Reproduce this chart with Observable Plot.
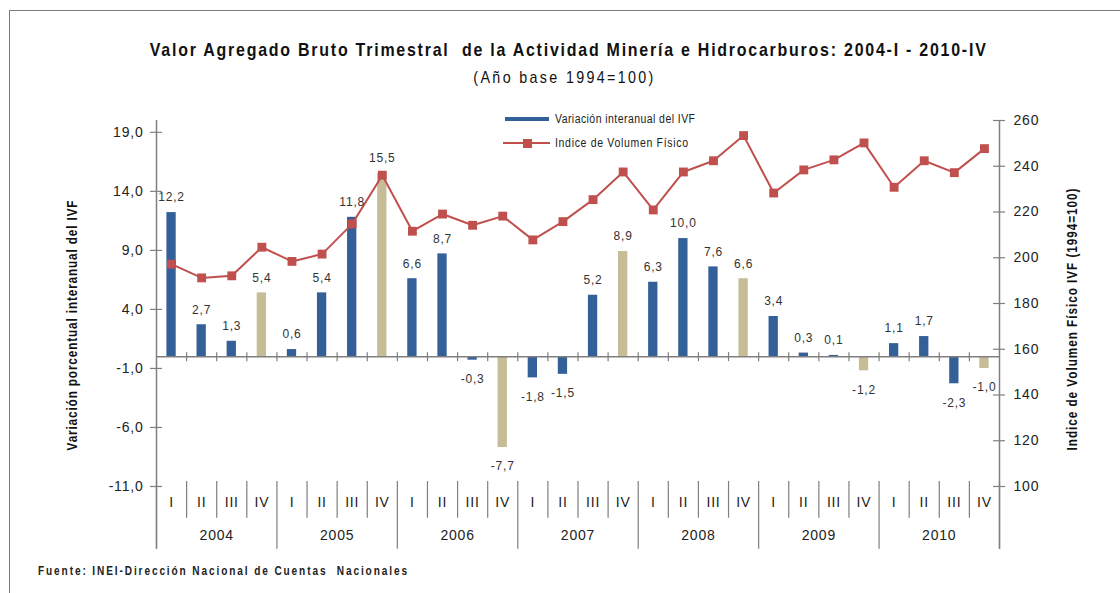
<!DOCTYPE html>
<html><head><meta charset="utf-8">
<script src="https://cdn.jsdelivr.net/npm/d3@7"></script>
<script src="https://cdn.jsdelivr.net/npm/@observablehq/plot@0.6"></script>
<style>
html,body{margin:0;padding:0;background:#fff;}
#wrap{position:relative;width:1120px;height:593px;overflow:hidden;font-family:"Liberation Sans Narrow","Arial Narrow","Liberation Sans",Arial,sans-serif;color:#111;}
#frame{position:absolute;left:9px;top:10px;width:1300px;height:800px;border-left:1.5px solid #7a7a7a;border-top:1.5px solid #7a7a7a;}
#chart{position:absolute;left:0;top:0;}
#chart svg text{letter-spacing:0.8px;}
.t{position:absolute;left:0;top:0;white-space:pre;line-height:1;transform-origin:50% 50%;}
.leg{position:absolute;}
</style></head><body>
<div id="wrap">
  <div id="frame"></div>
  <div id="chart"></div>
  <div class="t" id="title" style="font-weight:bold;font-size:19px;">Valor Agregado Bruto Trimestral  de la Actividad Minería e Hidrocarburos: 2004-I - 2010-IV</div>
  <div class="t" id="subtitle" style="font-size:17px;">(Año base 1994=100)</div>
  <div class="t" id="ylab" style="font-weight:bold;font-size:14px;">Variación porcentual interanual del IVF</div>
  <div class="t" id="ylab2" style="font-weight:bold;font-size:14px;">Indice de Volumen Físico IVF (1994=100)</div>
  <div class="t" id="foot" style="font-weight:bold;font-size:12px;color:#222;">Fuente: INEI-Dirección Nacional de Cuentas  Nacionales</div>
  <div class="leg" style="left:505px;top:117px;width:44px;height:4px;background:#34609a;"></div>
  <div class="leg" style="left:503px;top:142px;width:47px;height:2px;background:#c0504d;"></div>
  <div class="leg" style="left:523px;top:139px;width:9px;height:9px;background:#c0504d;"></div>
  <div class="t" id="leg1" style="font-size:12.5px;color:#222;">Variación interanual del IVF</div>
  <div class="t" id="leg2" style="font-size:12.5px;color:#222;">Indice de Volumen Físico</div>
</div>
<script>
// ---- data ----
const years = ["2004","2005","2006","2007","2008","2009","2010"];
const quarterLabels = ["I","II","III","IV"];
const variacion = [12.2,2.7,1.3,5.4, 0.6,5.4,11.8,15.5, 6.6,8.7,-0.3,-7.7, -1.8,-1.5,5.2,8.9, 6.3,10.0,7.6,6.6, 3.4,0.3,0.1,-1.2, 1.1,1.7,-2.3,-1.0];
const ivf = [197.2,191.2,192.1,204.6, 198.4,201.6,214.8,236.1, 211.6,219.1,214.2,218.2, 207.8,215.8,225.4,237.5, 220.9,237.5,242.4,253.4, 228.3,238.4,242.8,250.2, 230.8,242.4,237.2,247.7];
const leftTicks = [19,14,9,4,-1,-6,-11];
const rightTicks = [100,120,140,160,180,200,220,240,260];

const BLUE = "#34609a", TAN = "#c6bd97", RED = "#c0504d", AXIS = "#7f7f7f";
const FONT = '"Liberation Sans Narrow","Arial Narrow","Liberation Sans",Arial,sans-serif';

const rows = variacion.map((v, i) => ({i, v, q: i % 4, year: years[Math.floor(i / 4)], idx: ivf[i]}));
const nQ = rows.length;
// right axis (100..260) mapped onto left axis (-11..20)
const toL = v => -11 + (v - 100) * 31 / 160;
const fmt = d => d.toFixed(1).replace(".", ",");

const bounds = d3.range(0, nQ + 1);
const qSep = bounds.filter(k => k > 0 && k < nQ && k % 4 !== 0);
const ySep = bounds.filter(k => k % 4 === 0);
const yearRows = years.map((y, k) => ({y, k}));

const chart = Plot.plot({
  width: 1120, height: 593,
  marginTop: 120, marginBottom: 107, marginLeft: 156, marginRight: 121,
  style: {fontFamily: FONT, fontSize: "14px", color: "#222", background: "transparent"},
  x: {type: "linear", domain: [0, nQ], axis: null},
  y: {domain: [-11, 20], axis: null},
  marks: [
    Plot.rect(rows, {x1: d => d.i, x2: d => d.i + 1, y1: 0, y2: "v", insetLeft: 10.4, insetRight: 10.4,
      fill: d => d.q === 3 ? TAN : BLUE}),
    Plot.ruleY([0], {stroke: AXIS, strokeWidth: 1.5}),
    Plot.ruleX(bounds.slice(1, -1), {x: d => d, y1: 0, y2: 0, insetTop: -4, insetBottom: -5, stroke: AXIS, strokeWidth: 1.2}),
    Plot.ruleX([0, nQ], {x: d => d, insetBottom: -62.7, stroke: AXIS, strokeWidth: 1.5}),
    Plot.ruleX(qSep, {x: d => d, insetTop: 361, insetBottom: -31.7, stroke: AXIS, strokeWidth: 1.2}),
    Plot.ruleX(ySep, {x: d => d, insetTop: 361, insetBottom: -62.7, stroke: AXIS, strokeWidth: 1.2}),
    Plot.ruleY(leftTicks, {y: d => d, x1: 0, x2: 0, insetLeft: -6, insetRight: -6, stroke: AXIS, strokeWidth: 1.2}),
    Plot.ruleY(rightTicks, {y: d => toL(d), x1: nQ, x2: nQ, insetLeft: -6, insetRight: -6, stroke: AXIS, strokeWidth: 1.2}),
    Plot.text(leftTicks, {y: d => d, frameAnchor: "left", dx: -13, textAnchor: "end", text: fmt, fill: "#222"}),
    Plot.text(rightTicks, {y: d => toL(d), frameAnchor: "right", dx: 14, textAnchor: "start", text: d => String(d), fill: "#222"}),
    Plot.text(rows, {x: d => d.i + 0.5, frameAnchor: "bottom", dy: 20, text: d => quarterLabels[d.q], fill: "#222"}),
    Plot.text(yearRows, {x: d => d.k * 4 + 2, frameAnchor: "bottom", dy: 53, text: "y", fill: "#222"}),
    Plot.line(rows, {x: d => d.i + 0.5, y: d => toL(d.idx), stroke: RED, strokeWidth: 2}),
    Plot.dot(rows, {x: d => d.i + 0.5, y: d => toL(d.idx), symbol: "square", r: 5, fill: RED}),
    Plot.text(rows.filter(d => d.v >= 0), {x: d => d.i + 0.5, y: "v", text: d => fmt(d.v), dy: -15, fontSize: 12, fill: "#333"}),
    Plot.text(rows.filter(d => d.v < 0), {x: d => d.i + 0.5, y: "v", text: d => fmt(d.v), dy: 19, fontSize: 12, fill: "#333"})
  ]
});
document.getElementById("chart").appendChild(chart);

// narrow look: compress glyphs horizontally, then spread letters to hit the measured width
const SX = 0.84;
function fit(el, target) {
  el.style.letterSpacing = "0px";
  el.style.transform = "none";
  const w = el.getBoundingClientRect().width;
  const n = el.textContent.length;
  el.style.letterSpacing = ((target / SX - w) / (n - 1)) + "px";
  const r = el.getBoundingClientRect();
  return r;
}
function place(id, cx, cy, target, rot) {
  const el = document.getElementById(id);
  const r = fit(el, target);
  el.style.left = (cx - r.width / 2) + "px";
  el.style.top = (cy - r.height / 2) + "px";
  el.style.transform = (rot ? `rotate(${rot}deg) ` : "") + `scaleX(${SX})`;
}
function placeLeft(id, x, cy, target) {
  const el = document.getElementById(id);
  const r = fit(el, target);
  el.style.transformOrigin = "0 50%";
  el.style.left = x + "px";
  el.style.top = (cy - r.height / 2) + "px";
  el.style.transform = `scaleX(${SX})`;
}
place("title", 569, 49, 836);
place("subtitle", 565, 77, 180);
place("ylab", 72, 325, 250, -90);
place("ylab2", 1072, 319, 262, -90);
placeLeft("foot", 38, 571, 369);
placeLeft("leg1", 555, 119, 140);
placeLeft("leg2", 555, 143, 133);
</script>
</body></html>
